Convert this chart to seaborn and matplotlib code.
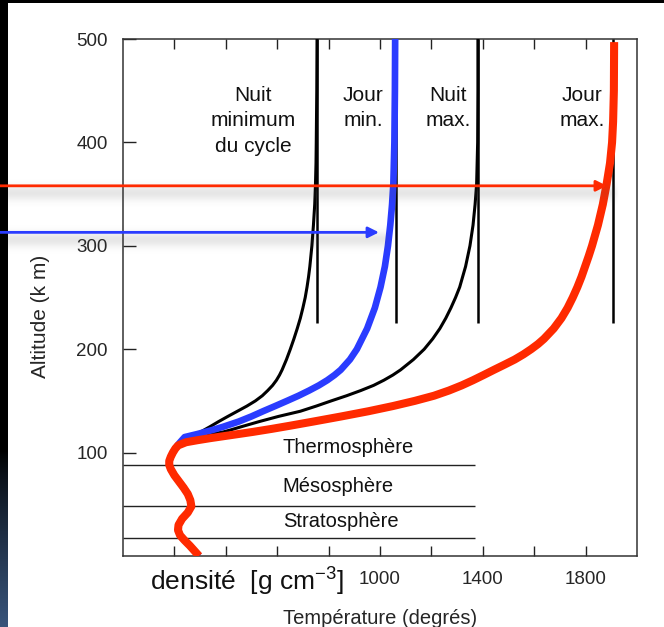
import numpy as np
import pandas as pd
import matplotlib
matplotlib.use("Agg")
import matplotlib.pyplot as plt
import seaborn as sns
from matplotlib.transforms import blended_transform_factory

# --- profils de température (altitude en km, température en K) ---
# partie commune : troposphère, stratosphère, mésosphère
alt_bas = [0, 5, 10, 15, 20, 25, 30, 36, 42, 48, 54, 60, 66, 72, 78, 84, 88, 92, 96, 100, 104]
temp_bas = [296, 278, 260, 240, 222, 214, 216, 230, 252, 266, 262, 252, 236, 218, 200, 186, 180, 180, 186, 194, 204]

# thermosphère, quatre conditions
alt_nuit_min = [107, 110, 115, 120, 125, 130, 135, 140, 145, 150, 155, 160, 165, 170, 175, 180, 190, 200,
                210, 220, 230, 240, 250, 260, 270, 280, 300, 320, 340, 360, 380, 400, 450, 500]
temp_nuit_min = [212, 222, 262, 302, 338, 372, 408, 445, 482, 515, 542, 563, 582, 597, 609, 619, 636, 651,
                 665, 678, 690, 700, 709, 716, 722, 727, 735, 741, 746, 749, 751, 752, 754, 755]

alt_jour_min = [107, 110, 115, 118, 120, 122, 125, 130, 135, 140, 145, 150, 155, 160, 165, 170, 175, 180,
                190, 200, 220, 240, 260, 280, 300, 320, 340, 360, 400, 450, 500]
temp_jour_min = [212, 222, 240, 290, 320, 350, 390, 450, 500, 545, 592, 638, 683, 724, 762, 795, 823, 847,
                 883, 910, 950, 980, 1002, 1019, 1031, 1040, 1047, 1052, 1056, 1058, 1059]

alt_nuit_max = [107, 110, 113, 116, 118, 120, 122, 125, 130, 135, 140, 145, 150, 155, 160, 165, 170, 175,
                180, 190, 200, 210, 220, 230, 240, 250, 260, 280, 300, 320, 340, 360, 400, 450, 500]
temp_nuit_max = [212, 222, 250, 300, 345, 390, 420, 460, 530, 605, 690, 752, 810, 870, 925, 975, 1015, 1050,
                 1080, 1130, 1172, 1205, 1233, 1256, 1276, 1294, 1310, 1333, 1350, 1362, 1370, 1376, 1380, 1381, 1381]

alt_jour_max = [107, 110, 112, 114, 116, 118, 120, 123, 126, 130, 135, 140, 145, 150, 155, 160, 165, 170,
                175, 180, 185, 190, 195, 200, 205, 210, 220, 230, 240, 250, 260, 270, 280, 290, 300, 320,
                340, 360, 380, 400, 420, 450, 497]
temp_jour_max = [215, 245, 290, 340, 395, 450, 505, 580, 650, 740, 850, 955, 1050, 1135, 1210, 1268, 1318, 1362,
                 1403, 1443, 1484, 1524, 1558, 1588, 1615, 1638, 1676, 1706, 1730, 1750, 1768, 1784, 1798, 1812, 1825, 1848,
                 1867, 1882, 1895, 1903, 1907, 1910, 1911]

# températures exosphériques (asymptotes)
temp_exo = [755, 1062, 1381, 1907]
alt_exo_bas = 225

# limites des couches (tropopause, stratopause, mésopause)
alt_couches = [17, 48, 88]
temp_couches_fin = 1370
noms_couches = ["Thermosphère", "Mésosphère", "Stratosphère"]
alt_noms_couches = [105, 67.5, 33]

etiquettes_courbes = ["Nuit\nminimum\ndu cycle", "Jour\nmin.", "Nuit\nmax.", "Jour\nmax."]
temp_etiquettes = [506, 934, 1265, 1786]

# flèches (altitude, température pointée)
alt_fleche_rouge, temp_fleche_rouge = 358, 1883
alt_fleche_bleue, temp_fleche_bleue = 313, 996

x_ticks = [200, 400, 600, 800, 1000, 1200, 1400, 1600, 1800]
x_ticklabels = ["", "", "", "", "1000", "", "1400", "", "1800"]
y_ticks = [100, 200, 300, 400, 500]

ROUGE = "#ff2a00"
BLEU = "#2a3cff"


def profil(nom, alt_haut, temp_haut):
    return pd.DataFrame({
        "altitude": alt_bas + alt_haut,
        "temperature": temp_bas + temp_haut,
        "serie": nom,
    })


df = pd.concat([
    profil("Nuit min", alt_nuit_min, temp_nuit_min),
    profil("Jour min", alt_jour_min, temp_jour_min),
    profil("Nuit max", alt_nuit_max, temp_nuit_max),
    profil("Jour max", alt_jour_max, temp_jour_max),
], ignore_index=True)

sns.set_style("white")
plt.rcParams["font.family"] = ["Liberation Sans", "DejaVu Sans"]
plt.rcParams["mathtext.default"] = "regular"

W, H = 664, 627
fig = plt.figure(figsize=(W / 100, H / 100), dpi=100, facecolor="white")

ax = fig.add_axes([123 / W, 1 - 556 / H, (637 - 123) / W, (556 - 39) / H], zorder=2)
ax.set_facecolor("none")
ax.set_xlim(0, 2000)
ax.set_ylim(0, 500)

# fond : bandeau sombre à gauche et liseré noir en haut
bg = fig.add_axes([0, 0, 1, 1], zorder=0)
fond = np.ones((H, W, 4))
fond[..., 3] = 0.0
t = np.linspace(0, 1, H)
fade = np.clip((t - 0.72) / 0.28, 0, 1) ** 0.8
fond[:, :8, 0] = (0.22 * fade)[:, None]
fond[:, :8, 1] = (0.33 * fade)[:, None]
fond[:, :8, 2] = (0.48 * fade)[:, None]
fond[:, :8, 3] = 1.0
fond[:3, :, :3] = 0.0
fond[:3, :, 3] = 1.0
bg.imshow(fond, aspect="auto", extent=[0, W, H, 0], interpolation="nearest")
bg.set_xlim(0, W)
bg.set_ylim(H, 0)
bg.set_axis_off()

# couches atmosphériques
ax.hlines(alt_couches, 0, temp_couches_fin, color="#222222", lw=1.0, zorder=2)
for nom, a in zip(noms_couches, alt_noms_couches):
    ax.text(622, a, nom, ha="left", va="center", fontsize=14.5, color="#111111")

# asymptotes exosphériques
ax.vlines(temp_exo, alt_exo_bas, 500, color="black", lw=1.8, zorder=3)

# courbes de température
styles = {
    "Nuit min": dict(color="black", lw=2.2),
    "Nuit max": dict(color="black", lw=2.2),
    "Jour min": dict(color=BLEU, lw=4.8),
    "Jour max": dict(color=ROUGE, lw=5.8),
}
for nom in ["Nuit min", "Nuit max", "Jour min", "Jour max"]:
    sns.lineplot(data=df[df["serie"] == nom], x="temperature", y="altitude",
                 sort=False, estimator=None, legend=False, ax=ax, zorder=4,
                 solid_capstyle="butt", solid_joinstyle="round", **styles[nom])

for lab, tx in zip(etiquettes_courbes, temp_etiquettes):
    ax.text(tx, 455, lab, ha="center", va="top", fontsize=15, linespacing=1.45,
            multialignment="center", color="#111111")

ax.set_xlim(0, 2000)
ax.set_ylim(0, 500)
ax.set_xticks(x_ticks)
ax.set_xticklabels(x_ticklabels)
ax.set_yticks(y_ticks)
ax.tick_params(axis="x", direction="in", length=7, width=1.0, top=True, bottom=True,
               labelsize=13.5, pad=11, color="#222222")
ax.tick_params(axis="y", direction="in", length=9.5, width=1.0, left=True, right=False,
               labelsize=13.5, pad=11, color="#222222")
for s in ax.spines.values():
    s.set_linewidth(1.1)
    s.set_edgecolor("#333333")

ax.set_xlabel("Température (degrés)", fontsize=14.5, labelpad=15)
ax.set_ylabel("Altitude (k m)", fontsize=15)
ax.yaxis.set_label_coords(-0.142, 0.464)

fig.text(247 / W, 1 - 582 / H, "densité  [g cm$^{-3}$]", ha="center", va="center",
         fontsize=19, color="#111111")

# calque supérieur : ombres portées puis flèches partant du bord gauche
ov = fig.add_axes([0, 0, 1, 1], zorder=10)
ov.set_axis_off()
ombres = np.zeros((H, W, 4))
ombres[..., :3] = 0.3
rows = np.arange(H)[:, None] + 0.5
cols = np.arange(W)[None, :] + 0.5
for alt, temp in [(alt_fleche_rouge, temp_fleche_rouge), (alt_fleche_bleue, temp_fleche_bleue)]:
    xp, yp = ax.transData.transform((temp, alt))
    y_line = H - yp
    band = 0.14 * np.exp(-((rows - (y_line + 7)) / 7.5) ** 2)
    span = np.clip((xp + 12 - cols) / 6.0, 0, 1) * (cols > 8)
    ombres[..., 3] = np.maximum(ombres[..., 3], band * span)
ov.imshow(ombres, aspect="auto", extent=[0, W, H, 0], interpolation="nearest")
ov.set_xlim(0, W)
ov.set_ylim(H, 0)

depart = blended_transform_factory(fig.transFigure, ax.transData)
for alt, temp, col in [(alt_fleche_rouge, temp_fleche_rouge, ROUGE),
                       (alt_fleche_bleue, temp_fleche_bleue, BLEU)]:
    ov.annotate("", xy=(temp, alt), xycoords=ax.transData,
                xytext=(0, alt), textcoords=depart,
                arrowprops=dict(arrowstyle="-|>", color=col, lw=2.0,
                                mutation_scale=16, shrinkA=0, shrinkB=0),
                annotation_clip=False)

fig.savefig("out.png", dpi=100, facecolor="white")
